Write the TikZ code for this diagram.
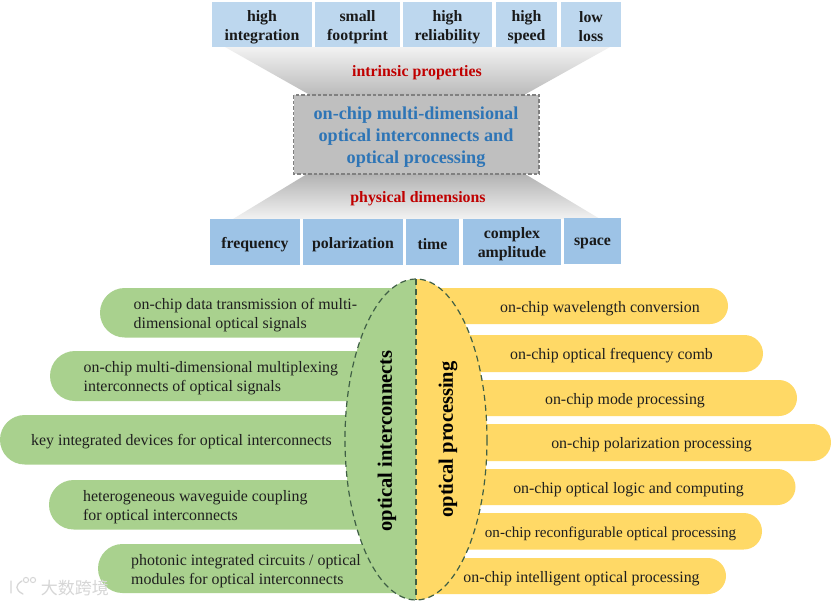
\documentclass[tikz,border=0pt]{standalone}
\usepackage{fontspec}
\setmainfont{Liberation Serif}
\newfontfamily\cjkwm{Noto Sans CJK SC}
\definecolor{topblue}{HTML}{BDD7EE}
\definecolor{botblue}{HTML}{9DC3E6}
\definecolor{pillgreen}{HTML}{A9D18E}
\definecolor{pillyellow}{HTML}{FFD966}
\definecolor{titleblue}{HTML}{2E75B6}
\definecolor{labelred}{HTML}{C00000}
\definecolor{dashdark}{HTML}{3F5F45}
\tikzset{
  x=1pt,y=-1pt,
  prop/.style={inner sep=0pt,align=center,font=\fontsize{15.8}{19}\selectfont\bfseries,text=black!90},
  item/.style={inner sep=0pt,align=left,font=\fontsize{15.9}{19}\selectfont,text=black!88},
  rlab/.style={inner sep=0pt,font=\fontsize{15.85}{19}\selectfont\bfseries,text=labelred},
  vlab/.style={inner sep=0pt,rotate=90,font=\fontsize{20.5}{22}\selectfont\bfseries,text=black},
  wmark/.style={black!16,line width=1.3pt,line cap=round},
}
\newcommand{\propbox}[7]{% name x1 y1 x2 y2 colour text
  \fill[#6] (#2,#3) rectangle (#4,#5);
  \node[prop] (#1) at ({(#2+#4)/2},{(#3+#5)/2+2.5}) {#7};}
\newcommand{\leftpill}[4]{%
  \fill[pillgreen] (416,#2) {[rounded corners=#4pt] -- (#1,#2) -- (#1,#3)} -- (416,#3) -- cycle;}
\newcommand{\rightpill}[4]{%
  \fill[pillyellow] (416,#2) {[rounded corners=#4pt] -- (#1,#2) -- (#1,#3)} -- (416,#3) -- cycle;}
\begin{document}
\begin{tikzpicture}
\useasboundingbox (0,0) rectangle (831,603);
\fill[white] (0,0) rectangle (831,603);
% funnels
\shade[top color=white!95!black,bottom color=black!27] (225,47) -- (610,47) -- (524,95) -- (310,95) -- cycle;
\shade[top color=black!30,bottom color=white!95!black] (307,174) -- (525,174) -- (600,219) -- (233,219) -- cycle;
% top boxes
\propbox{a1}{212}{2}{312}{47}{topblue}{high\\integration}
\propbox{a2}{315}{2}{400}{47}{topblue}{small\\footprint}
\propbox{a3}{403}{2}{492}{47}{topblue}{high\\reliability}
\propbox{a4}{496}{2}{557}{47}{topblue}{high\\speed}
\propbox{a5}{561}{2}{621}{47}{topblue}{low\\loss}
% labels
\node[rlab] (ip) at (417,72.5) {intrinsic properties};
\node[rlab] (pd) at (418,199) {physical dimensions};
% centre
\fill[black!25] (293.5,95) rectangle (539,174);
\draw[black!50,line width=1.1pt,dash pattern=on 3.5pt off 2pt] (293.5,95) rectangle (539,174);
\node[inner sep=0pt,align=center,font=\fontsize{18.2}{22}\selectfont\bfseries,text=titleblue] (c) at (416,137)
  {on-chip multi-dimensional\\optical interconnects and\\optical processing};
% bottom boxes
\propbox{b1}{210}{219}{300}{265}{botblue}{frequency}
\propbox{b2}{303}{219}{403}{265}{botblue}{polarization}
\propbox{b3}{406}{219}{459}{265}{botblue}{time}
\propbox{b4}{463}{219}{561}{265}{botblue}{complex\\amplitude}
\propbox{b5}{564}{218}{621}{264}{botblue}{space}
% left pills
\leftpill{100}{288}{337.5}{24.7}
\leftpill{50}{351}{401}{25}
\leftpill{0}{415}{464.5}{24.7}
\leftpill{49}{480}{529.5}{24.7}
\leftpill{98}{544}{593}{24.5}
% right pills
\rightpill{728}{288}{324}{18}
\rightpill{763}{335}{372}{18.5}
\rightpill{797}{380}{416}{18}
\rightpill{831}{424}{461}{18.5}
\rightpill{795.5}{469}{505}{18}
\rightpill{762}{513}{549.5}{18.2}
\rightpill{726}{558}{594}{18}
% central ellipse
\begin{scope}
  \clip (340,270) rectangle (416,610);
  \fill[pillgreen] (416,439.5) ellipse [x radius=71,y radius=160.5];
\end{scope}
\begin{scope}
  \clip (416,270) rectangle (495,610);
  \fill[pillyellow] (416,439.5) ellipse [x radius=71,y radius=160.5];
\end{scope}
\draw[dashdark,line width=1.2pt,dash pattern=on 6pt off 4pt] (416,439.5) ellipse [x radius=71,y radius=160.5];
\draw[dashdark,line width=1.2pt,dash pattern=on 6pt off 4pt] (416,279) -- (416,600);
% item text
\node[item,anchor=west] (l1) at (133.5,315.5) {on-chip data transmission of multi-\\dimensional optical signals};
\node[item,anchor=west] (l2) at (83.5,378.5) {on-chip multi-dimensional multiplexing\\interconnects of optical signals};
\node[item,anchor=west] (l3) at (31,442) {key integrated devices for optical interconnects};
\node[item,anchor=west] (l4) at (83,507.5) {heterogeneous waveguide coupling\\for optical interconnects};
\node[item,anchor=west] (l5) at (131,571) {photonic integrated circuits / optical\\modules for optical interconnects};
\node[item] (r1) at (600,309) {on-chip wavelength conversion};
\node[item] (r2) at (611.5,356) {on-chip optical frequency comb};
\node[item] (r3) at (625,400.5) {on-chip mode processing};
\node[item] (r4) at (651.5,445) {on-chip polarization processing};
\node[item] (r5) at (628.5,490) {on-chip optical logic and computing};
\node[item,font=\fontsize{15.1}{19}\selectfont] (r6) at (610.5,534) {on-chip reconfigurable optical processing};
\node[item] (r7) at (581.5,579) {on-chip intelligent optical processing};
% vertical labels
\node[vlab] (vl) at (387,441) {optical interconnects};
\node[vlab] (vr) at (448,439.5) {optical processing};
% watermark
\node[inner sep=0pt,font=\fontsize{17}{18}\selectfont\cjkwm,text=black!16] (wm) at (75,588) {大数跨境};
\draw[wmark] (11,581) -- (11,593) (22,581) .. controls (15,585) and (15,590) .. (23,594);
\draw[wmark,line width=1pt] (26,580) circle (2.6) (33,580) circle (2.6);
\end{tikzpicture}
\end{document}
